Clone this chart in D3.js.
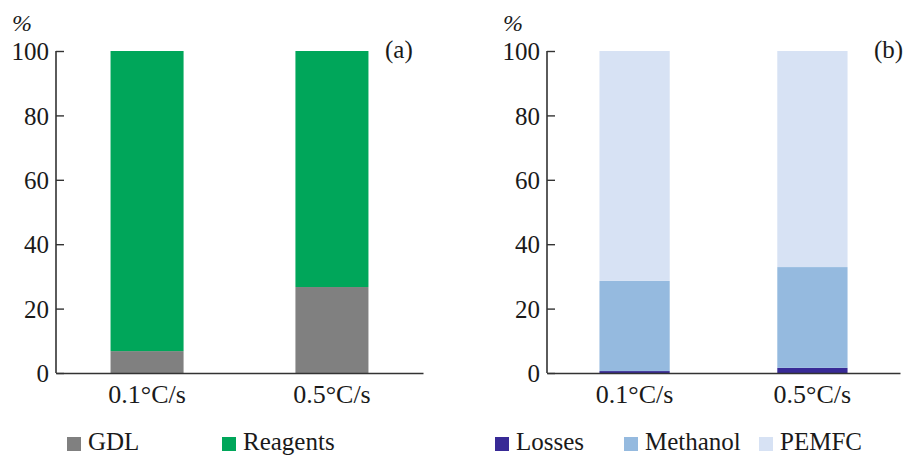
<!DOCTYPE html>
<html>
<head>
<meta charset="utf-8">
<script src="https://cdn.jsdelivr.net/npm/d3@7"></script>
<style>
  body { margin: 0; background: #fff; }
  svg text { font-family: "Liberation Serif", "Times New Roman", serif; fill: #1a1a1a; }
</style>
</head>
<body>
<svg id="chart" width="904" height="457"></svg>
<script>
// categories (heating rate)
const rates = ["0.1°C/s", "0.5°C/s"];
const yTicks = [0, 20, 40, 60, 80, 100];

// panel (a)
const gdl = [6.8, 26.7];
const reagents = [93.2, 73.3];

// panel (b)
const losses = [0.6, 1.6];
const methanol = [28.0, 31.3];
const pemfc = [71.4, 67.1];

const seriesA = [
    {name: "GDL", color: "#808080", values: gdl},
    {name: "Reagents", color: "#00a65a", values: reagents}
];
const seriesB = [
    {name: "Losses", color: "#382a96", values: losses},
    {name: "Methanol", color: "#95badf", values: methanol},
    {name: "PEMFC", color: "#d7e2f4", values: pemfc}
];

const svg = d3.select("#chart");
const TOP = 51, BOTTOM = 373;

const yScale = d3.scaleLinear().domain([0, 100]).range([BOTTOM, TOP]);

function drawPanel(series, x0, x1, tag, tagX, legendX) {
    const g = svg.append("g");
    const xScale = d3.scaleBand().domain(rates).range([x0, x1])
        .paddingInner(0.605).paddingOuter(0.295);

    // stacked bars
    const rows = rates.map((r, i) => {
        const row = {rate: r};
        series.forEach(s => row[s.name] = s.values[i]);
        return row;
    });
    const stack = d3.stack().keys(series.map(s => s.name))(rows);

    stack.forEach((layer, k) => {
        g.selectAll(null).data(layer).enter()
            .append("rect")
            .attr("x", d => xScale(d.data.rate))
            .attr("width", xScale.bandwidth())
            .attr("y", d => yScale(Math.min(d[1], 100)))
            .attr("height", d => yScale(d[0]) - yScale(Math.min(d[1], 100)))
            .attr("fill", series[k].color);
    });

    // y axis, ticks pointing inward
    const yAxis = g.append("g")
        .attr("transform", "translate(" + x0 + ",0)")
        .call(d3.axisRight(yScale).tickValues(yTicks).tickSize(8));
    yAxis.select(".domain").remove();
    yAxis.selectAll(".tick line").attr("stroke", "#333").attr("stroke-width", 1.4);
    yAxis.selectAll(".tick text")
        .attr("x", -7).attr("text-anchor", "end")
        .style("font-size", "25px").attr("dy", "0.35em");

    g.append("line")
        .attr("x1", x0).attr("x2", x0)
        .attr("y1", TOP).attr("y2", BOTTOM)
        .attr("stroke", "#333").attr("stroke-width", 1.6);

    // x axis
    const xAxis = g.append("g")
        .attr("transform", "translate(0," + BOTTOM + ")")
        .call(d3.axisBottom(xScale).tickSize(0).tickPadding(9));
    xAxis.select(".domain").attr("stroke", "#333").attr("stroke-width", 1.6);
    xAxis.selectAll(".tick text").style("font-size", "26px").attr("dy", "0.8em");

    g.append("text").attr("x", x0 - 44).attr("y", 31).text("%")
        .style("font-size", "24px").style("font-style", "italic");

    g.append("text").attr("x", tagX).attr("y", 58).text(tag).style("font-size", "25px");

    // legend
    const lg = g.append("g");
    series.forEach((s, i) => {
        lg.append("rect")
            .attr("x", legendX[i]).attr("y", 437)
            .attr("width", 14).attr("height", 14)
            .attr("fill", s.color);
        lg.append("text")
            .attr("x", legendX[i] + 21).attr("y", 450)
            .text(s.name).style("font-size", "25px");
    });
}

drawPanel(seriesA, 56, 423, "(a)", 385, [67, 222]);
drawPanel(seriesB, 547, 900, "(b)", 874, [495, 624, 759]);
</script>
</body>
</html>
